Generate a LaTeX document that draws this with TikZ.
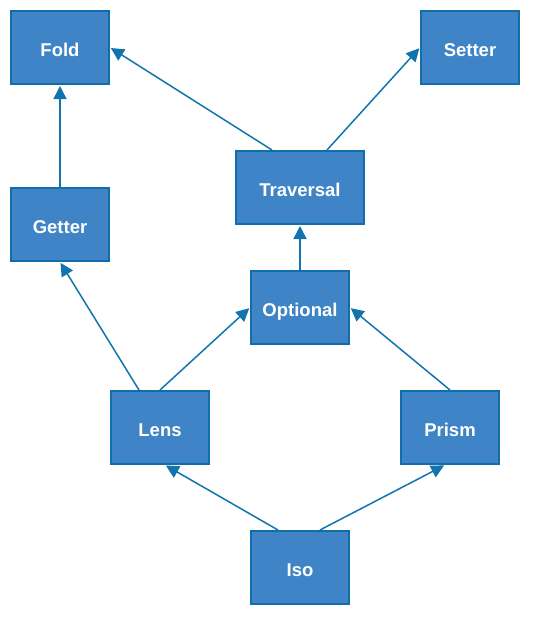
\documentclass[tikz,border=0pt]{standalone}
\usepackage{fontspec}
\setmainfont{Liberation Sans}
\usetikzlibrary{arrows.meta}
\definecolor{boxfill}{RGB}{62,132,198}
\definecolor{boxline}{RGB}{18,110,170}
\definecolor{linkcol}{RGB}{18,116,172}
\tikzset{
  optic/.style={draw=boxline, fill=boxfill, line width=2pt, minimum width=98pt, minimum height=73pt,
    text=white, font=\bfseries\fontsize{18.5}{22}\selectfont, inner sep=0pt, text height=17pt, text depth=0pt},
  link/.style={draw=linkcol, line width=1.5pt, -{Triangle[length=13pt,width=13pt]}, shorten >=1pt}
}
\begin{document}
\begin{tikzpicture}[x=1pt, y=-1pt]
        \useasboundingbox (0,0) rectangle (546,625);
        \node[optic] (fold) at (60,47.5) {Fold};
        \node[optic] (setter) at (470,47.5) {Setter};
        \node[optic, minimum width=128pt] (traversal) at (300,187.5) {Traversal};
        \node[optic] (getter) at (60,224.5) {Getter};
        \node[optic] (optional) at (300,307.5) {Optional};
        \node[optic] (lens) at (160,427.5) {Lens};
        \node[optic] (prism) at (450,427.5) {Prism};
        \node[optic] (iso) at (300,567.5) {Iso};
        \draw[link] (getter.north) -- (fold.south);
        \draw[link] ([xshift=-28pt]traversal.north) -- (fold.east);
        \draw[link] ([xshift=27pt]traversal.north) -- (setter.west);
        \draw[link] (optional.north) -- (traversal.south);
        \draw[link] ([xshift=-21pt]lens.north) -- (getter.south);
        \draw[link] (lens.north) -- (optional.west);
        \draw[link] (prism.north) -- (optional.east);
        \draw[link] ([xshift=-22pt]iso.north) -- ([xshift=5pt]lens.south);
        \draw[link] ([xshift=20pt]iso.north) -- ([xshift=-5pt]prism.south);
      \end{tikzpicture}
\end{document}
